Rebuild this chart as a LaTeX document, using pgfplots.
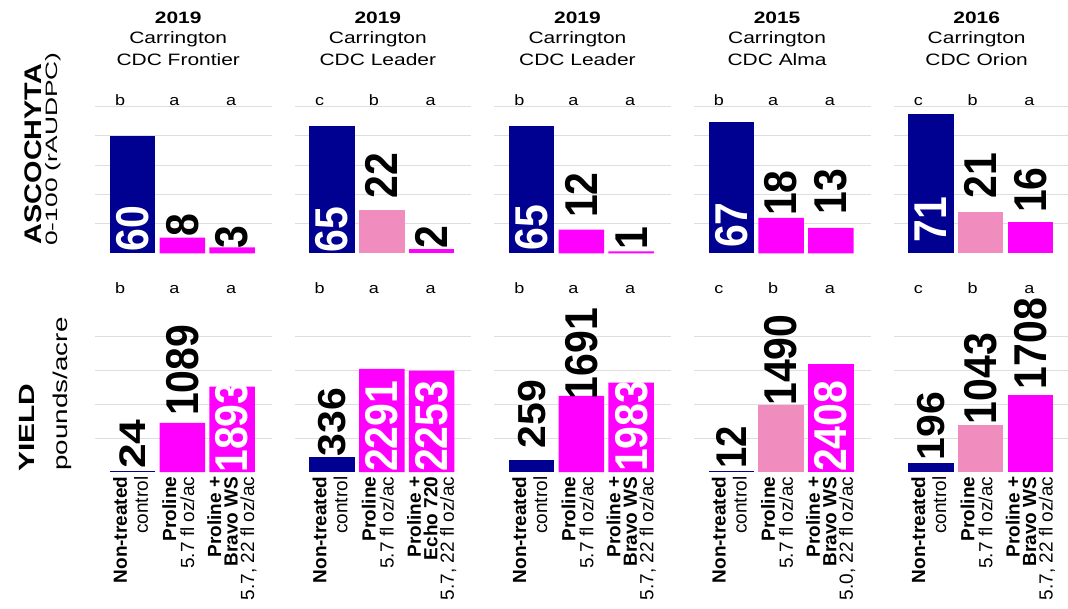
\documentclass[border=0pt]{standalone}
\usepackage{fontspec}
\usepackage{pgfplots}
\pgfplotsset{compat=1.18}
\setmainfont{Liberation Sans}
\newfontfamily\ttlfam[FakeStretch=1.27]{Liberation Sans}
\newfontfamily\letfam[FakeStretch=1.2]{Liberation Sans}
\newfontfamily\numfam[FakeStretch=0.89]{Liberation Sans}
\newfontfamily\numfamB[FakeStretch=1.05]{Liberation Sans}
\newfontfamily\numfamD[FakeStretch=1.2]{Liberation Sans}
\newfontfamily\rowAfam[FakeStretch=1.2]{Liberation Sans}
\newfontfamily\rowBfam[FakeStretch=1.6]{Liberation Sans}
\newfontfamily\rowCfam[FakeStretch=1.36]{Liberation Sans}
\newfontfamily\rowDfam[FakeStretch=1.39]{Liberation Sans}
\newcommand\ttl{\ttlfam\fontsize{16.5bp}{19bp}\selectfont}
\newcommand\ttlB{\ttlfam\bfseries\fontsize{16.5bp}{19bp}\selectfont}
\newcommand\letf{\letfam\fontsize{15bp}{17bp}\selectfont}
\newcommand\numA{\numfam\bfseries\fontsize{46bp}{46bp}\selectfont}
\newcommand\numB{\numfamB\bfseries\fontsize{39bp}{39bp}\selectfont}
\newcommand\numC{\numfam\bfseries\fontsize{43bp}{43bp}\selectfont}
\newcommand\numD{\numfamD\bfseries\fontsize{37bp}{37bp}\selectfont}
\newcommand\rowA{\rowAfam\bfseries\fontsize{24bp}{26bp}\selectfont}
\newcommand\rowB{\rowBfam\fontsize{16.5bp}{18bp}\selectfont}
\newcommand\rowC{\rowCfam\bfseries\fontsize{22bp}{24bp}\selectfont}
\newcommand\rowD{\rowDfam\fontsize{20bp}{22bp}\selectfont}
\newcommand\catA{\fontsize{19bp}{21bp}\selectfont}
\newcommand\catB{\fontsize{19bp}{18bp}\selectfont}
\newcommand\catC{\fontsize{19bp}{16.5bp}\selectfont}
\definecolor{navyc}{RGB}{0,0,145}
\definecolor{magc}{RGB}{255,0,255}
\definecolor{pinkc}{RGB}{240,140,190}
\definecolor{gridc}{RGB}{222,222,222}
\pgfplotsset{
  panel/.style={scale only axis, width=176.6bp, xmin=-0.75, xmax=2.8, ymin=0,
    axis line style={draw=none}, xtick=\empty, yticklabels={}, major tick length=0pt,
    ymajorgrids, grid style={draw=gridc, line width=0.8bp}, clip=false, anchor=south west},
  toppanel/.style={panel, ymax=80, height=157.04bp, ytick={15,30,45,60,75}},
  botpanel/.style={panel, ymax=4000, height=180.18bp, ytick={750,1500,2250,3000}},
  bar/.style={ybar, bar width=45.5bp, bar shift=0pt, draw=none},
  lbl/.style={draw=none, mark=none, forget plot, nodes near coords, point meta=explicit symbolic,
    every node near coord/.style={rotate=90, anchor=west, inner sep=0pt, font=#1}},
  lblout/.style={lbl={\numA}},
  lblin/.style={lbl={\numA}, every node near coord/.append style={text=white}},
  lblctl/.style={lbl={\numB}},
  lblctlC/.style={lbl={\numC}},
  lblctlD/.style={lbl={\numD}},
}
\tikzset{
  letter/.style={anchor=base, inner sep=0pt, font=\letf},
  cat/.style={rotate=90, anchor=east, inner sep=0pt, align=right},
}
\newcommand\toplet[3]{%
  \node[letter] at (axis cs:-0.25,75.5) {#1};
  \node[letter] at (axis cs:0.84,75.5) {#2};
  \node[letter] at (axis cs:1.98,75.5) {#3};}
\newcommand\botlet[3]{%
  \node[letter] at (axis cs:-0.25,3963) {#1};
  \node[letter] at (axis cs:0.84,3963) {#2};
  \node[letter] at (axis cs:1.98,3963) {#3};}
\newcommand\cats[2]{%
  \node[cat, font=\catA] at ([xshift=-2bp, yshift=-4.5bp]axis cs:0,0) {\textbf{Non-treated}\\control};
  \node[cat, font=\catB] at ([xshift=-4bp, yshift=-4.5bp]axis cs:1,0) {\textbf{Proline}\\5.7 fl oz/ac};
  \node[cat, font=\catC] at ([yshift=-4.5bp]axis cs:2,0) {\textbf{Proline +}\\\textbf{#1}\\#2 fl oz/ac};}
\newcommand\ptitle[4]{%
  \node[anchor=base, font=\ttlB] at (#1bp,-23.3bp) {#2};
  \node[anchor=base, font=\ttl] at (#1bp,-43.7bp) {#3};
  \node[anchor=base, font=\ttl] at (#1bp,-65bp) {#4};}
\begin{document}
\begin{tikzpicture}
\path[use as bounding box] (0,0) rectangle (1068bp,-609bp);
% titles
\ptitle{178.25}{2019}{Carrington}{CDC Frontier}
\ptitle{377.85}{2019}{Carrington}{CDC Leader}
\ptitle{577.45}{2019}{Carrington}{CDC Leader}
\ptitle{777.05}{2015}{Carrington}{CDC Alma}
\ptitle{976.65}{2016}{Carrington}{CDC Orion}
% row labels
\node[rotate=90, font=\rowA] at (33.7bp,-154bp) {ASCOCHYTA};
\node[rotate=90, font=\rowB] at (52.8bp,-149bp) {0-100 (rAUDPC)};
\node[rotate=90, font=\rowC] at (27bp,-427.5bp) {YIELD};
\node[rotate=90, font=\rowD] at (62.5bp,-394bp) {pounds/acre};

% ---------- top row: ascochyta ----------
\begin{axis}[toppanel, at={(95.2bp,-253.3bp)}]
\addplot[bar, fill=navyc] coordinates {(0,60)};
\addplot[bar, fill=magc] coordinates {(1,8) (2,3)};
\addplot[lblin] coordinates {(0,1.0) [60]};
\addplot[lblout] coordinates {(1,8.3) [8] (2,2.3) [3]};
\toplet{b}{a}{a}
\end{axis}
\begin{axis}[toppanel, at={(294.8bp,-253.3bp)}]
\addplot[bar, fill=navyc] coordinates {(0,65)};
\addplot[bar, fill=pinkc] coordinates {(1,22)};
\addplot[bar, fill=magc] coordinates {(2,2)};
\addplot[lblin] coordinates {(0,0.3) [65]};
\addplot[lblout] coordinates {(1,27.8) [22] (2,2.3) [2]};
\toplet{c}{b}{a}
\end{axis}
\begin{axis}[toppanel, at={(494.4bp,-253.3bp)}]
\addplot[bar, fill=navyc] coordinates {(0,65)};
\addplot[bar, fill=magc] coordinates {(1,12) (2,1)};
\addplot[lblin] coordinates {(0,1.5) [65]};
\addplot[lblout] coordinates {(1,18.0) [12] (2,1.7) [1]};
\toplet{b}{a}{a}
\end{axis}
\begin{axis}[toppanel, at={(694.0bp,-253.3bp)}]
\addplot[bar, fill=navyc] coordinates {(0,67)};
\addplot[bar, fill=magc] coordinates {(1,18) (2,13)};
\addplot[lblin] coordinates {(0,2.7) [67]};
\addplot[lblout] coordinates {(1,19.0) [18] (2,19.7) [13]};
\toplet{b}{a}{a}
\end{axis}
\begin{axis}[toppanel, at={(893.6bp,-253.3bp)}]
\addplot[bar, fill=navyc] coordinates {(0,71)};
\addplot[bar, fill=pinkc] coordinates {(1,21)};
\addplot[bar, fill=magc] coordinates {(2,16)};
\addplot[lblin] coordinates {(0,5.5) [71]};
\addplot[lblout] coordinates {(1,27.8) [21] (2,20.5) [16]};
\toplet{c}{b}{a}
\end{axis}

% ---------- bottom row: yield ----------
\begin{axis}[botpanel, at={(95.2bp,-472bp)}]
\addplot[bar, fill=navyc] coordinates {(0,24)};
\addplot[bar, fill=magc] coordinates {(1,1089) (2,1893)};
\addplot[lblctlD] coordinates {(0,67) [24]};
\addplot[lblout] coordinates {(1,1243) [1089]};
\addplot[lblin] coordinates {(2,-20) [1893]};
\botlet{b}{a}{a}
\cats{Bravo WS}{5.7, 22}
\end{axis}
\begin{axis}[botpanel, at={(294.8bp,-472bp)}]
\addplot[bar, fill=navyc] coordinates {(0,336)};
\addplot[bar, fill=magc] coordinates {(1,2291) (2,2253)};
\addplot[lblctl] coordinates {(0,340) [336]};
\addplot[lblin] coordinates {(1,0) [2291] (2,0) [2253]};
\botlet{b}{a}{a}
\cats{Echo 720}{5.7, 22}
\end{axis}
\begin{axis}[botpanel, at={(494.4bp,-472bp)}]
\addplot[bar, fill=navyc] coordinates {(0,259)};
\addplot[bar, fill=magc] coordinates {(1,1691) (2,1983)};
\addplot[lblctl] coordinates {(0,517) [259]};
\addplot[lblout] coordinates {(1,1616) [1691]};
\addplot[lblin] coordinates {(2,0) [1983]};
\botlet{b}{a}{a}
\cats{Bravo WS}{5.7, 22}
\end{axis}
\begin{axis}[botpanel, at={(694.0bp,-472bp)}]
\addplot[bar, fill=navyc] coordinates {(0,12)};
\addplot[bar, fill=pinkc] coordinates {(1,1490)};
\addplot[bar, fill=magc] coordinates {(2,2408)};
\addplot[lblctlC] coordinates {(0,67) [12]};
\addplot[lblout] coordinates {(1,1467) [1490]};
\addplot[lblin] coordinates {(2,0) [2408]};
\botlet{c}{b}{a}
\cats{Bravo WS}{5.0, 22}
\end{axis}
\begin{axis}[botpanel, at={(893.6bp,-472bp)}]
\addplot[bar, fill=navyc] coordinates {(0,196)};
\addplot[bar, fill=pinkc] coordinates {(1,1043)};
\addplot[bar, fill=magc] coordinates {(2,1708)};
\addplot[lblctl] coordinates {(0,251) [196]};
\addplot[lblout] coordinates {(1,1060) [1043] (2,1838) [1708]};
\botlet{c}{b}{a}
\cats{Bravo WS}{5.7, 22}
\end{axis}
\end{tikzpicture}
\end{document}
